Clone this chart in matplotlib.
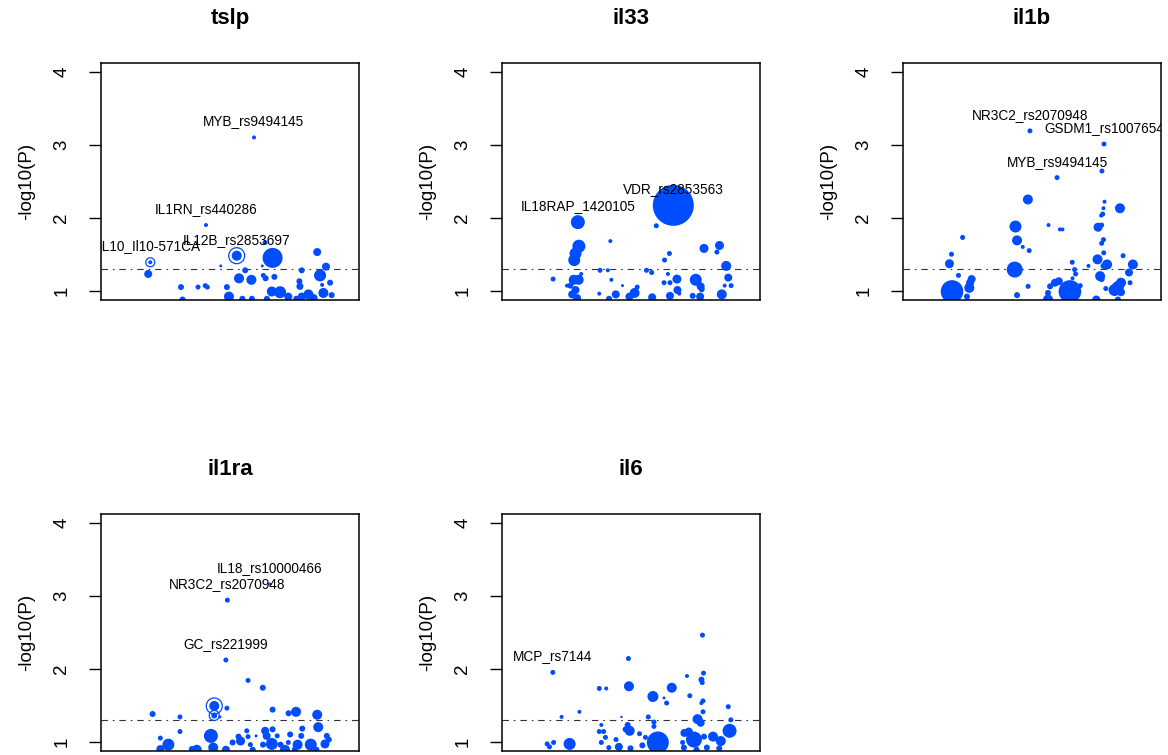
import matplotlib.pyplot as plt

plt.rcParams['font.family'] = ['Liberation Sans', 'DejaVu Sans']

# point colour used by the original R plot
BLUE = '#004cff'

# ---- tslp ----
tslp_x = [59.3, 40.7, 19.1, 18.3, 52.6, 66.5, 63.6, 83.8, 87.2, 84.9, 77.8, 88.8, 85.7, 46.4,
          55.9, 53.5, 58.3, 62.9, 63.8, 67.2, 62.5, 48.8, 31.0, 37.6, 40.4, 41.2, 76.9, 77.1,
          66.2, 69.4, 72.6, 80.4, 77.8, 86.2, 49.6, 31.6, 54.8, 58.5, 64.3, 75.7, 82.4, 89.4]
tslp_y = [3.10, 1.90, 1.39, 1.23, 1.48, 1.45, 1.66, 1.53, 1.33, 1.21, 1.28, 1.11, 1.08, 1.34,
          1.28, 1.17, 1.15, 1.21, 1.17, 1.19, 1.34, 1.05, 1.05, 1.05, 1.07, 1.05, 1.13, 1.06,
          0.99, 0.98, 0.92, 0.95, 0.92, 0.97, 0.92, 0.88, 0.89, 0.89, 0.89, 0.89, 0.90, 0.94]
tslp_r = [2, 2, 2, 4, 5, 10, 2.5, 4, 4, 6, 3, 3, 2, 1.5,
          3, 5, 5, 2.5, 3, 3, 1.5, 3, 3, 2.5, 2.5, 2.5, 3, 3.5,
          5, 6, 4, 5, 4, 5, 5, 3, 3, 3, 3, 3, 4, 3]
tslp_labels = {0: 'MYB_rs9494145', 1: 'IL1RN_rs440286', 2: 'IL10_Il10-571CA', 4: 'IL12B_rs2853697'}
tslp_rings = {2: 4.5, 4: 8}

# ---- il33 ----
il33_x = [66.4, 59.8, 29.4, 29.8, 28.5, 28.0, 42.0, 64.9, 63.0, 78.3, 84.3, 83.3, 86.9, 87.7,
          88.8, 86.3, 38.0, 41.0, 56.0, 58.0, 64.3, 30.7, 19.8, 42.4, 46.7, 67.8, 65.1, 62.8,
          75.1, 77.0, 77.4, 68.0, 68.7, 65.1, 52.4, 51.4, 49.4, 44.1, 41.5, 37.7, 58.2, 73.9,
          76.8, 85.2, 27.8, 29.7, 26.5, 28.5, 27.2, 29.1, 25.2]
il33_y = [2.17, 1.89, 1.94, 1.61, 1.51, 1.42, 1.68, 1.51, 1.42, 1.58, 1.62, 1.53, 1.34, 1.18,
          1.07, 1.07, 1.28, 1.28, 1.28, 1.25, 1.23, 1.23, 1.16, 1.15, 1.07, 1.16, 1.11, 1.11,
          1.15, 1.06, 1.02, 1.01, 0.96, 0.93, 1.05, 0.97, 0.92, 0.95, 0.89, 0.96, 0.91, 0.93,
          0.92, 0.95, 1.15, 1.15, 1.07, 1.01, 0.95, 0.90, 1.07]
il33_r = [20.5, 2.5, 7, 6.5, 6, 6, 2, 2.5, 2.5, 4.5, 4.5, 2.5, 5, 4,
          2.5, 2, 2.5, 2, 2.5, 2.5, 2, 2, 2.5, 2, 1.5, 4.5, 2.5, 2.5,
          6, 4, 3, 4, 2, 4, 2.5, 5, 4, 4, 3, 2, 4, 3,
          4, 5, 5, 5, 3, 4, 4, 4, 2]
il33_labels = {0: 'VDR_rs2853563', 2: 'IL18RAP_1420105'}
il33_rings = {}

# ---- il1b ----
il1b_x = [49.2, 77.9, 77.1, 59.7, 48.4, 84.1, 78.1, 77.7, 77.4, 76.8, 75.6, 77.0, 77.7, 77.0,
          77.8, 75.4, 79.1, 77.7, 76.4, 77.0, 78.6, 85.3, 89.1, 87.6, 88.0, 84.5, 83.3, 82.0,
          84.5, 83.3, 71.9, 65.6, 66.5, 66.9, 65.7, 68.7, 64.7, 58.9, 60.4, 57.0, 56.2, 56.2,
          56.4, 60.8, 61.8, 43.6, 44.2, 46.4, 48.9, 43.3, 48.5, 44.2, 23.1, 18.8, 18.0, 21.5,
          19.0, 26.0, 26.6, 25.7, 24.8, 74.9]
il1b_y = [3.19, 3.01, 2.64, 2.55, 2.25, 2.13, 2.22, 2.13, 2.05, 2.03, 1.87, 1.90, 1.70, 1.65,
          1.52, 1.43, 1.36, 1.34, 1.20, 1.16, 1.03, 1.48, 1.36, 1.25, 1.11, 1.11, 1.05, 1.01,
          0.98, 0.88, 1.34, 1.39, 1.29, 1.23, 1.17, 1.07, 0.99, 1.11, 1.13, 1.06, 0.97, 0.88,
          1.90, 1.84, 1.84, 1.88, 1.69, 1.60, 1.55, 1.29, 1.06, 0.94, 1.73, 1.50, 1.37, 1.21,
          0.99, 1.11, 1.16, 1.04, 0.92, 0.88]
il1b_r = [2.5, 2.5, 2.5, 2.5, 5, 5, 2, 2, 2.5, 2, 4.5, 2.5, 2.5, 2.5,
          2.5, 5, 5, 3, 5, 3, 2.5, 2.5, 5, 4, 2.5, 5, 6, 6,
          4, 3, 2, 2.5, 2.5, 2.5, 2, 2.5, 11.3, 4, 4, 3, 3, 5,
          2, 2, 2, 6, 5, 2, 2.5, 8, 2.5, 3, 2.5, 2.5, 4.5, 2.5,
          11.3, 4, 4, 5, 3, 4]
il1b_labels = {0: 'NR3C2_rs2070948', 1: 'GSDM1_rs1007654', 3: 'MYB_rs9494145'}
il1b_rings = {}

# ---- il1ra ----
il1ra_x = [49.0, 65.5, 48.4, 57.0, 62.7, 43.9, 43.9, 48.8, 46.1, 20.0, 30.6, 30.6, 23.0, 66.5,
           72.7, 75.6, 83.8, 84.2, 78.0, 73.3, 63.6, 66.5, 64.2, 56.5, 42.6, 60.1, 57.0, 53.3,
           54.1, 51.0, 57.9, 66.2, 62.8, 77.6, 76.2, 81.3, 86.8, 88.3, 72.6, 71.3, 43.5, 48.4,
           37.1, 35.2, 26.1, 23.0, 58.8, 83.5, 87.5, 68.3, 75.2, 69.6]
il1ra_y = [2.94, 3.16, 2.12, 1.84, 1.74, 1.49, 1.36, 1.46, 1.34, 1.38, 1.34, 1.14, 1.05, 1.44,
           1.39, 1.41, 1.37, 1.20, 1.18, 1.10, 1.15, 1.17, 1.08, 1.15, 1.08, 1.08, 1.07, 1.07,
           1.01, 0.99, 0.96, 0.97, 0.96, 1.08, 0.96, 0.96, 0.97, 1.03, 0.99, 0.89, 0.92, 0.89,
           0.89, 0.90, 0.96, 0.90, 0.89, 0.89, 1.08, 1.08, 0.90, 0.96]
il1ra_r = [2.5, 1.5, 2.5, 2.5, 3, 5, 3, 2.5, 1.5, 3, 2.5, 2.5, 2.5, 3,
           3, 5, 5, 5, 3, 3, 4, 3, 4, 2.5, 7, 1.5, 2.5, 3,
           4.5, 3, 2.5, 6, 3, 3, 5, 6, 4.5, 3, 2.5, 5, 5, 4,
           5, 3, 6, 4, 3, 3, 3, 2.5, 3, 3]
il1ra_labels = {1: 'IL18_rs10000466', 0: 'NR3C2_rs2070948', 2: 'GC_rs221999'}
il1ra_rings = {5: 8, 6: 5}

# ---- il6 ----
il6_x = [19.7, 77.7, 49.0, 78.1, 71.7, 77.3, 77.6, 49.2, 65.8, 37.7, 40.4, 58.5, 62.8, 63.8,
         72.8, 77.9, 77.3, 87.7, 77.9, 30.0, 23.1, 46.3, 56.7, 75.8, 77.0, 88.7, 88.2, 58.9,
         58.9, 38.5, 48.7, 49.5, 47.9, 37.7, 39.4, 53.3, 40.1, 44.2, 38.5, 55.6, 60.4, 72.4,
         74.4, 73.8, 78.3, 81.8, 84.8, 70.0, 79.4, 26.2, 20.0, 17.5, 18.4, 45.3, 49.8, 54.4,
         41.4, 70.5, 84.2, 75.4, 70.7]
il6_y = [1.95, 2.46, 2.14, 1.94, 1.90, 1.85, 1.81, 1.76, 1.74, 1.73, 1.73, 1.62, 1.60, 1.53,
         1.63, 1.56, 1.53, 1.48, 1.41, 1.41, 1.34, 1.34, 1.34, 1.31, 1.26, 1.30, 1.15, 1.27,
         1.21, 1.23, 1.23, 1.15, 1.17, 1.14, 1.14, 1.11, 1.06, 1.03, 0.99, 1.06, 0.99, 1.14,
         1.03, 1.08, 1.07, 1.07, 1.01, 0.99, 0.92, 0.97, 0.99, 0.97, 0.93, 0.93, 0.91, 0.95,
         0.92, 0.92, 0.91, 0.89, 1.12]
il6_r = [2.5, 2.5, 2.5, 2.5, 2, 3, 2.5, 5, 5, 2.5, 2, 5.5, 1.5, 2.5,
         2.5, 2.5, 2, 2.5, 2.5, 2, 2, 1.2, 2.5, 5, 4, 2.5, 7, 2.5,
         2.5, 2, 3, 5, 3, 2.5, 2.5, 2.5, 2.5, 2.5, 2.5, 2.5, 11, 4,
         8, 3, 3, 5, 5, 2.5, 3, 6, 2.5, 2.5, 2.5, 4, 3, 3,
         2.5, 3, 3, 3, 4]
il6_labels = {0: 'MCP_rs7144'}
il6_rings = {}

yticks = [1, 2, 3, 4]

panels = [
    ('tslp', tslp_x, tslp_y, tslp_r, tslp_labels, tslp_rings),
    ('il33', il33_x, il33_y, il33_r, il33_labels, il33_rings),
    ('il1b', il1b_x, il1b_y, il1b_r, il1b_labels, il1b_rings),
    ('il1ra', il1ra_x, il1ra_y, il1ra_r, il1ra_labels, il1ra_rings),
    ('il6', il6_x, il6_y, il6_r, il6_labels, il6_rings),
]

W, H = 1168, 755
fig = plt.figure(figsize=(W / 100, H / 100), dpi=100)


def area(r):
    # radius in pixels -> scatter area in pt^2 (100 dpi)
    return (2 * r * 0.72) ** 2


lefts = [101, 502, 903]
tops = [63, 514]
bw, bh = 258, 236.5

for k, (name, xs, ys, rs, labels, rings) in enumerate(panels):
    left = lefts[k % 3]
    top = tops[k // 3]
    ax = fig.add_axes([left / W, 1 - (top + bh) / H, bw / W, bh / H])

    ax.scatter(xs, ys, s=[area(r) for r in rs], c=BLUE, linewidths=0, zorder=2)
    if rings:
        idx = list(rings)
        ax.scatter([xs[i] for i in idx], [ys[i] for i in idx],
                   s=[area(rings[i]) for i in idx], facecolors='none',
                   edgecolors=BLUE, linewidths=0.9, zorder=3)

    ax.axhline(1.3, color='#333333', lw=0.8, ls=(0, (5.8, 4.4, 1.5, 4.4)), zorder=1)

    for i, lab in labels.items():
        ax.text(xs[i], ys[i] + 0.22, lab, ha='center', va='center',
                fontsize=9.8, zorder=4, clip_on=True)

    ax.set_xlim(0, 100)
    ax.set_ylim(0.88, 4.12)
    ax.set_xticks([])
    ax.set_yticks(yticks)
    ax.set_yticklabels([])
    ax.tick_params(axis='y', length=8.5, width=1.0)
    # R style tick labels, parallel to the axis
    tr = ax.get_yaxis_transform()
    for t in yticks:
        ax.text(-0.152, t, str(t), transform=tr, rotation=90, ha='center',
                va='center', fontsize=13.5, clip_on=False)
    ax.text(-0.288, 0.5, '-log10(P)', transform=ax.transAxes, rotation=90,
            ha='center', va='center', fontsize=13.5)
    ax.set_title(name, fontsize=16, fontweight='bold', pad=28)
    for sp in ax.spines.values():
        sp.set_linewidth(1.1)

fig.savefig('out.png', dpi=100)
